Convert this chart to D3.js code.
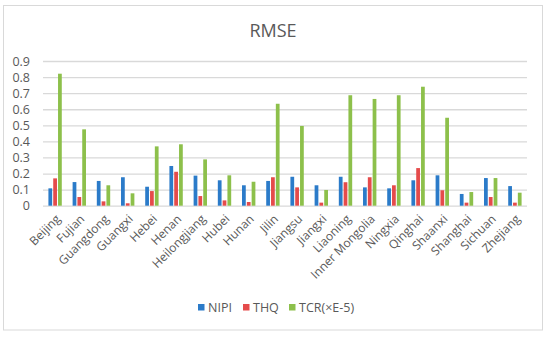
<!DOCTYPE html>
<html><head><meta charset="utf-8">
<script src="https://cdn.jsdelivr.net/npm/d3@7"></script>
<style>body{margin:0;background:#fff}svg{display:block;font-family:"Open Sans",sans-serif}</style>
</head><body><svg id="c" width="550" height="337"></svg>
<script>
const categories = ["Beijing","Fujian","Guangdong","Guangxi","Hebei","Henan","Heilongjiang","Hubei","Hunan","Jilin","Jiangsu","Jiangxi","Liaoning","Inner Mongolia","Ningxia","Qinghai","Shaanxi","Shanghai","Sichuan","Zhejiang"];
const seriesNames = ["NIPI","THQ","TCR(×E-5)"];
const nipi = [0.108,0.147,0.154,0.177,0.118,0.247,0.187,0.158,0.127,0.154,0.180,0.127,0.180,0.114,0.108,0.158,0.189,0.073,0.172,0.122];
const thq  = [0.170,0.054,0.027,0.015,0.091,0.211,0.060,0.033,0.023,0.177,0.114,0.019,0.146,0.177,0.127,0.234,0.096,0.019,0.054,0.019];
const tcr  = [0.821,0.475,0.127,0.077,0.369,0.382,0.288,0.189,0.149,0.634,0.496,0.098,0.687,0.664,0.687,0.740,0.547,0.085,0.172,0.081];
const yTicks = [0,0.1,0.2,0.3,0.4,0.5,0.6,0.7,0.8,0.9];
const colors = ["#2b7bc9","#e54b4b","#8dc04b"];

(function(){
const svg = d3.select("#c");
const pLeft = 43, pRight = 527, pTop = 61, pBottom = 205.7;

svg.append("rect").attr("x",3.5).attr("y",5.5).attr("width",539).attr("height",324.5)
  .attr("fill","#fff").attr("stroke","#d9d9d9");

svg.append("text").attr("x",273).attr("y",37).attr("text-anchor","middle")
  .attr("font-size",18).attr("fill","#595959").text("RMSE");

const y = d3.scaleLinear().domain([0,0.9]).range([pBottom,pTop]);
const x0 = d3.scaleBand().domain(categories).range([pLeft,pRight]).paddingInner(0.36).paddingOuter(0.18);
const x1 = d3.scaleBand().domain(seriesNames).range([0,x0.bandwidth()]).padding(0.22);

const yAxis = d3.axisLeft(y).tickValues(yTicks).tickFormat(d=>d===0?"0":d3.format(".1f")(d)).tickSize(-(pRight-pLeft)).tickPadding(13);
const ga = svg.append("g").attr("transform",`translate(${pLeft},0)`).call(yAxis);
ga.select(".domain").remove();
ga.selectAll("line").attr("stroke","#d9d9d9").attr("stroke-width",1.3);
ga.selectAll("text").attr("font-size",12.5).attr("fill","#595959").attr("font-family","Open Sans");

const data = categories.map((c,i)=>({c, v:[nipi[i],thq[i],tcr[i]]}));
const g = svg.append("g");
g.selectAll("g").data(data).join("g").attr("transform",d=>`translate(${x0(d.c)},0)`)
  .selectAll("rect").data(d=>d.v.map((v,k)=>({v,k}))).join("rect")
  .attr("x",d=>x1(seriesNames[d.k])).attr("width",x1.bandwidth())
  .attr("y",d=>y(d.v)).attr("height",d=>y(0)-y(d.v))
  .attr("fill",d=>colors[d.k]);

const xAxis = d3.axisBottom(x0).tickSize(0).tickPadding(0);
const gx = svg.append("g").attr("transform",`translate(0,${pBottom})`).call(xAxis);
gx.select(".domain").remove();
gx.selectAll("text").attr("font-size",12).attr("fill","#595959").attr("font-family","Open Sans")
  .attr("text-anchor","end").attr("dy",0).attr("y",0)
  .attr("transform","translate(6,14) rotate(-45)");

const leg = svg.append("g");
const lx = [198, 243, 289];
seriesNames.forEach((s,k)=>{
  leg.append("rect").attr("x",lx[k]).attr("y",304).attr("width",6.5).attr("height",6.5).attr("fill",colors[k]);
  leg.append("text").attr("x",lx[k]+10).attr("y",312).attr("font-size",12.5).attr("fill","#595959").text(s);
});
})();
</script></body></html>
